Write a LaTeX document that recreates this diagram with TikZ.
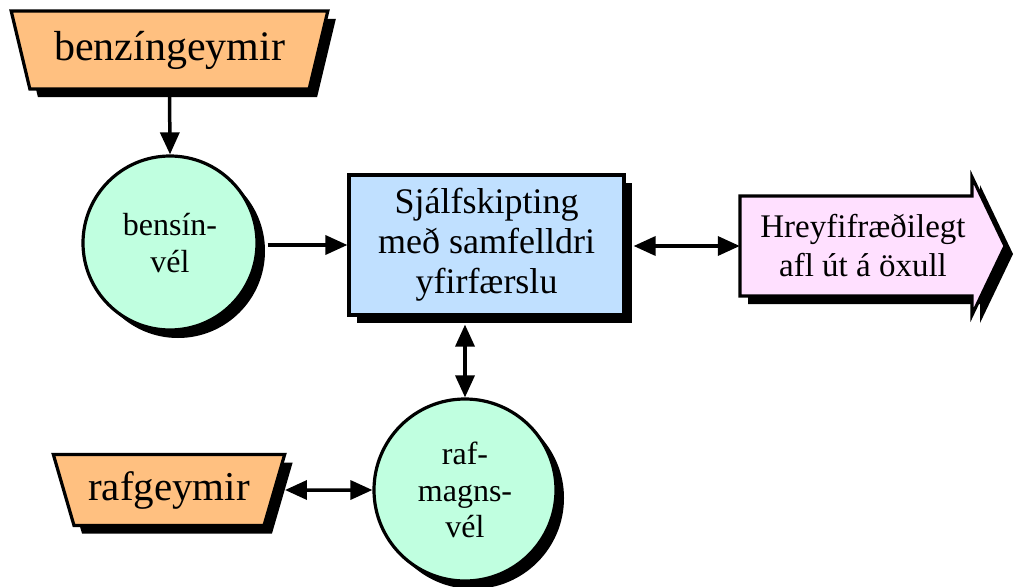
\documentclass[tikz,border=0pt]{standalone}
\usepackage{fontspec}
\setmainfont{Liberation Serif}
\usetikzlibrary{shapes.geometric,shadows,arrows.meta}
\definecolor{peach}{HTML}{FFC080}
\definecolor{mint}{HTML}{C0FFE0}
\definecolor{lblue}{HTML}{C0E0FF}
\definecolor{lpink}{HTML}{FFE0FF}
\begin{document}
\begin{tikzpicture}[x=1pt,y=-1pt,
  shad/.style={drop shadow={shadow xshift=8pt,shadow yshift=-8pt,opacity=1,fill=black}},
  tank/.style={trapezium, shape border rotate=180, trapezium stretches=true, draw, line width=3.2pt, fill=peach, shad, inner sep=0pt},
  engine/.style={circle, draw, line width=3.2pt, fill=mint, shad, inner sep=0pt, align=center, font=\fontsize{32}{36.5}\selectfont},
  conn/.style={line width=3.5pt, -{Triangle[length=22pt,width=19pt]}},
  bconn/.style={line width=3.5pt, {Triangle[length=22pt,width=19pt]}-{Triangle[length=22pt,width=19pt]}},
]
\useasboundingbox (0,0) rectangle (1014,586);

\node[tank, minimum width=317pt, minimum height=78pt, trapezium left angle=68, trapezium right angle=68, font=\fontsize{42}{48}\selectfont] (bz) at (169.5,50) {benzíngeymir};

\node[engine, minimum size=174pt] (bv) at (170,243) {bensín-\\vél};

\node[draw, line width=3.2pt, fill=lblue, shad, minimum width=275pt, minimum height=140pt, align=center, inner sep=0pt, font=\fontsize{36}{40}\selectfont] (tr) at (486.5,245) {Sjálfskipting\\með samfelldri\\yfirfærslu};

\filldraw[line width=3.2pt, fill=lpink, shad, line join=miter] (740,196) -- (972,196) -- (972,177) -- (1005,246) -- (972,315) -- (972,296) -- (740,296) -- cycle;
\node[inner sep=0pt, minimum width=246pt, minimum height=100pt, align=center, font=\fontsize{33}{39}\selectfont] (out) at (863,246) {Hreyfifræðilegt\\afl út á öxull};

\node[engine, minimum size=182pt] (rm) at (465,490) {raf-\\magns-\\vél};

\node[tank, minimum width=232pt, minimum height=71pt, trapezium left angle=65, trapezium right angle=65, font=\fontsize{41}{48}\selectfont] (rg) at (169,490) {rafgeymir};

\draw[conn] (bz.-90) -- (bv.north);
\draw[conn, shorten <=9pt] (bv.east |- tr.west) -- (tr.west);
\draw[bconn, shorten <=8pt] (tr.east |- out.west) -- (out.west);
\draw[bconn, shorten <=8pt] (rm.north |- tr.south) -- (rm.north);
\draw[bconn, shorten <=9pt] (rg.0) -- (rm.west);
\end{tikzpicture}
\end{document}
